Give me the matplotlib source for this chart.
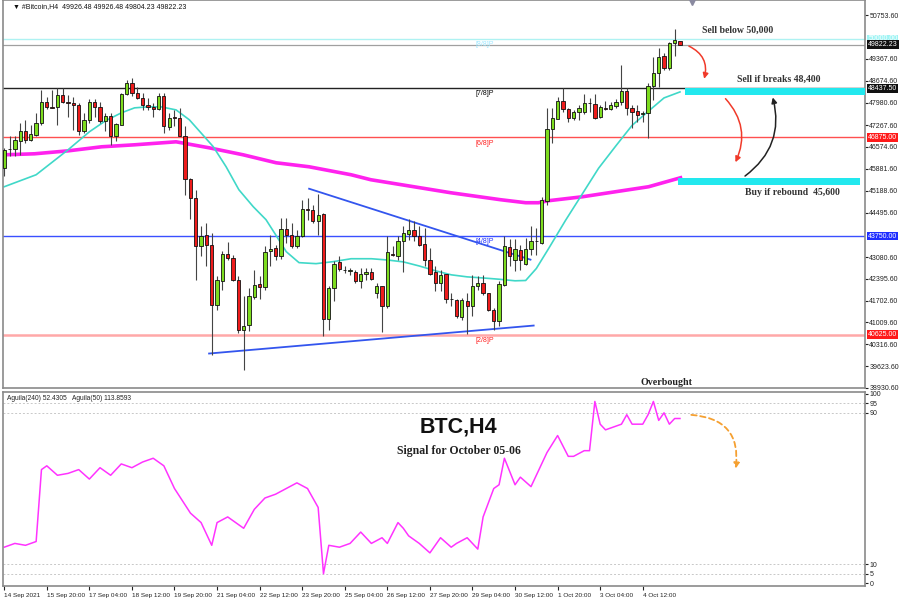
import matplotlib
matplotlib.use("Agg")
import matplotlib.pyplot as plt
from matplotlib.patches import FancyArrowPatch

# candles (H4), 14 Sep 12:00 -> 5 Oct 16:00
opens = [45904, 46506, 46506, 46770, 47086, 46801, 46960, 47350, 47994, 47857,
         47836, 48237, 47994, 47963, 47899, 47065, 47414, 48005, 47857, 47382,
         47561, 46907, 47276, 48258, 48596, 48300, 48121, 47910, 47857, 47773,
         48195, 47192, 47509, 47500, 46928, 45556, 44954, 43424, 43793, 43476,
         41576, 42336, 43181, 43054, 42368, 40784, 40943, 41819, 42231, 42125,
         43265, 43371, 43107, 43972, 43793, 43424, 43740, 44606, 44585, 44215,
         44447, 41122, 42104, 42917, 42664, 42632, 42600, 42315, 42558, 42600,
         41946, 42178, 41545, 43160, 43128, 43582, 43825, 43951, 43761, 43498,
         43001, 42600, 42262, 42547, 41756, 41735, 41186, 41682, 41524, 42178,
         42262, 41946, 41418, 41048, 42210, 43392, 43001, 43318, 42863, 43349,
         43581, 43528, 44848, 47149, 47466, 48036, 47772, 47508, 47677, 47677,
         47962, 47930, 47540, 47825, 47783, 47888, 47994, 48353, 47804, 47719,
         47619, 47645, 48522, 48912, 49461, 49071, 49862, 49926.48]
highs = [46537, 46907, 46928, 47329, 47435, 47276, 47646, 48385, 48174, 48385,
         48438, 48438, 48227, 48174, 47984, 47646, 48089, 48089, 48015, 47667,
         47646, 47329, 48279, 48702, 48754, 48491, 48300, 48121, 47963, 48279,
         48279, 47646, 47751, 47815, 47224, 45588, 45197, 44057, 44162, 43846,
         42473, 43265, 43550, 43160, 42473, 41861, 42104, 42684, 42473, 43424,
         43793, 43476, 44321, 44321, 44162, 43951, 44901, 44954, 44743, 45092,
         44479, 42157, 42948, 43128, 42790, 42737, 42685, 42737, 42737, 42737,
         42262, 42178, 43740, 43424, 43740, 44057, 44289, 44215, 44057, 44004,
         43371, 42811, 42685, 42547, 41946, 41756, 41787, 41946, 42526, 42474,
         42526, 41946, 41471, 42315, 43740, 43656, 43656, 43476, 43687, 44056,
         44003, 44974, 47825, 47825, 48173, 48437, 47804, 47751, 47909, 48247,
         48142, 48247, 47909, 48036, 47994, 48099, 49176, 48437, 47909, 47909,
         47719, 48596, 49440, 49704, 49546, 49915, 50316, 49926.48]
lows = [45640, 46274, 46274, 46326, 46696, 46749, 46928, 47276, 47773, 47804,
        47276, 47963, 47540, 47118, 46960, 47012, 47350, 47540, 47329, 47065,
        46643, 46749, 47266, 48227, 48195, 48089, 47751, 47751, 47540, 47751,
        47012, 47118, 47224, 46907, 45060, 44289, 42368, 43107, 42790, 39992,
        41418, 42051, 43001, 42336, 40678, 39496, 40731, 41755, 41755, 42051,
        42790, 43001, 43022, 43529, 43371, 43371, 43719, 44268, 44162, 43793,
        40594, 40784, 41682, 42632, 42579, 42526, 42262, 42104, 42368, 42347,
        41787, 40700, 41471, 43128, 43001, 42600, 43635, 43582, 43424, 42811,
        42526, 41998, 41998, 41629, 41524, 41154, 41101, 40658, 41207, 42051,
        41893, 41365, 40784, 40890, 42157, 42811, 42632, 42664, 42842, 43159,
        43159, 43496, 44742, 46695, 47466, 47698, 47360, 47434, 47434, 47614,
        47698, 47466, 47508, 47751, 47740, 47804, 47909, 47593, 47170, 47381,
        47381, 46853, 48068, 48490, 49018, 49018, 49472, 49804.23]
closes = [46485, 46500, 46798, 47086, 46801, 46991, 47350, 47994, 47857, 47825,
          48237, 47994, 47984, 47899, 47065, 47435, 48005, 47857, 47382, 47561,
          46907, 47298, 48258, 48596, 48279, 48121, 47910, 47857, 47773, 48195,
          47224, 47488, 47488, 46928, 45556, 44954, 43424, 43761, 43476, 41576,
          42368, 43181, 43054, 42368, 40784, 40890, 41840, 42210, 42125, 43244,
          43350, 43107, 43972, 43793, 43424, 43740, 44606, 44585, 44215, 44426,
          41122, 42104, 42874, 42705, 42664, 42664, 42315, 42547, 42600, 42389,
          42178, 41545, 43234, 43150, 43582, 43846, 43951, 43761, 43476, 43001,
          42558, 42262, 42526, 41756, 41750, 41207, 41713, 41524, 42178, 42262,
          41946, 41397, 41048, 42241, 43424, 43107, 43339, 43001, 43349, 43581,
          43590, 44901, 47149, 47487, 48036, 47783, 47508, 47677, 47825, 47962,
          47955, 47508, 47857, 47772, 47909, 47994, 48353, 47804, 47698, 47593,
          47645, 48522, 48912, 49440, 49071, 49862, 49968, 49822.23]

# moving averages (bar index, price)
ma_fast_x = [0, 6, 12, 16, 19, 22, 24.5, 27, 29.5, 32.3, 34.8, 39.3, 41.7, 44.1, 46.8, 49.2,
             51, 53, 55.4, 58.6, 61.8, 65.2, 69, 72, 75, 78, 81, 84, 87, 90, 93, 96, 98,
             100, 102.3, 105.5, 108.7, 111.7, 115, 118, 121, 124, 127]
ma_fast = [45313, 45693, 46485, 47055, 47400, 47656, 47815, 47846, 47846, 47750, 47435,
           46580, 45947, 45218, 44680, 44268, 43793, 43254, 42906, 42874, 42937, 43030,
           43030, 42990, 42930, 42800, 42650, 42520, 42455, 42420, 42380, 42330, 42340,
           42720, 43350, 44250, 45100, 45900, 46620, 47260, 47700, 48130, 48320]
ma_slow_x = [0, 5.7, 12.1, 18.3, 24.5, 32.3, 38.5, 44.9, 51.1, 57.3, 65.2, 68.9, 83.9,
             93.3, 98, 100.4, 102.3, 108.7, 114.9, 121.1, 127.1]
ma_slow = [46326, 46358, 46453, 46580, 46643, 46738, 46548, 46326, 46073, 45946, 45693,
           45535, 45123, 44901, 44806, 44806, 44870, 44996, 45155, 45313, 45598]

# murrey levels
mm_levels = [50000, 48437.5, 46875, 43750, 40625]
mm_names = ["[8/8]P", "[7/8]P", "[6/8]P", "[4/8]P", "[2/8]P"]
mm_colors = ["#9fe8ff", "#000000", "#ff2020", "#2030ff", "#ff2020"]
mm_lines = ["#aef2f2", "#222222", "#ff5050", "#3a50ff", "#ffa8a8"]
bid = 49822.23

# triangle lines (bar index, price)
tri_up_x, tri_up_y = [57.3, 98.9], [45250, 43001]
tri_lo_x, tri_lo_y = [38.5, 99.5], [40024, 40911]

price_ticks = [50753.60, 49367.60, 48674.60, 47980.60, 47267.60, 46574.60, 45881.60,
               45188.60, 44495.60, 43080.60, 42395.60, 41702.60, 41009.60, 40316.60,
               39623.60, 38930.60]

# oscillator (bar index, value)
osc_x = [0, 2, 4, 6, 7, 8, 10, 12, 14, 16, 18, 20, 22, 24, 26, 28, 30, 32, 35, 37, 39,
         40, 42, 45, 47, 49, 51, 53, 55, 57, 58, 59, 60, 61, 63, 65, 67, 69, 71, 72, 74,
         75, 76, 78, 80, 82, 84, 85, 87, 88, 89, 90, 92, 93, 94, 96, 97, 99, 102, 104,
         106, 107, 109, 110, 111, 112, 113, 115, 116, 117, 118, 120, 121, 122, 123, 124,
         125, 126, 127]
osc = [19, 21, 20, 22, 60, 62, 57, 58, 60, 55, 61, 57, 63, 61, 64, 66, 62, 50, 37, 32,
       20, 32, 35, 29, 39, 45, 47, 50, 53, 50, 45, 40, 5, 20, 19, 21, 27, 21, 24, 21, 32,
       29, 25, 21, 16, 24, 19, 21, 24, 21, 18, 35, 50, 52, 66, 52, 56, 51, 69, 78, 67,
       67, 70, 70, 96, 84, 81, 83, 84, 89, 84, 84, 89, 96, 86, 90, 84, 87, 87]

date_ticks = list(range(0, 121, 8))
date_labels = ["14 Sep 2021", "15 Sep 20:00", "17 Sep 04:00", "18 Sep 12:00",
               "19 Sep 20:00", "21 Sep 04:00", "22 Sep 12:00", "23 Sep 20:00",
               "25 Sep 04:00", "26 Sep 12:00", "27 Sep 20:00", "29 Sep 04:00",
               "30 Sep 12:00", "1 Oct 20:00", "3 Oct 04:00", "4 Oct 12:00"]

plt.rcParams["font.family"] = ["Liberation Sans", "DejaVu Sans"]

fig = plt.figure(figsize=(9, 6), dpi=100)
ax = fig.add_axes([0.0035, 1 - 388 / 600, 0.9578, 388 / 600])
ax2 = fig.add_axes([0.0035, 1 - 586 / 600, 0.9578, 194 / 600])

x_lo, x_hi = -0.2, 161.8
for a in (ax, ax2):
    a.set_xlim(x_lo, x_hi)
    for s in a.spines.values():
        s.set_color("#8a8a8a")
        s.set_linewidth(1.2)
ax.set_ylim(38947, 51235)

# horizontal levels
for lv, c in zip(mm_levels, mm_lines):
    lw = 1.8 if c == "#ffa8a8" else 1.0
    ax.axhline(lv, color=c, lw=lw, zorder=1)
ax.axhline(bid, color="#a0a0a0", lw=0.9, zorder=1)
for lv, nm, c in zip(mm_levels, mm_names, mm_colors):
    ax.text(88.5, lv - 70, nm, fontsize=5, color=c, va="top", ha="left", zorder=2)

# moving averages
ax.plot(ma_slow_x, ma_slow, color="#ff22ee", lw=2.6, zorder=2)
ax.plot(ma_fast_x, ma_fast, color="#40d8c8", lw=1.2, zorder=2)

# triangle
ax.plot(tri_up_x, tri_up_y, color="#3355ee", lw=1.3, zorder=2)
ax.plot(tri_lo_x, tri_lo_y, color="#3355ee", lw=1.3, zorder=2)

# candles
idx = list(range(len(opens)))
ax.vlines(idx, lows, highs, color="#444444", lw=0.8, zorder=3)
bottoms = [min(o, c) for o, c in zip(opens, closes)]
heights = [max(abs(c - o), 18) for o, c in zip(opens, closes)]
cols = ["#7ddc1f" if c >= o else "#ee1c1c" for o, c in zip(opens, closes)]
ax.bar(idx, heights, bottom=bottoms, width=0.62, color=cols, edgecolor="#111111",
       linewidth=0.6, zorder=4)

# signal boxes
ax.fill_between([128.0, 161.8], 48226, 48448, color="#22e8ee", zorder=3, lw=0)
ax.fill_between([126.7, 160.8], 45376, 45598, color="#22e8ee", zorder=3, lw=0)

serif = ["Liberation Serif", "DejaVu Serif"]
ax.text(131.2, 50270, "Sell below 50,000", fontsize=7, fontweight="bold", family=serif,
        color="#333333", va="center")
ax.text(137.8, 48720, "Sell if breaks 48,400", fontsize=7, fontweight="bold", family=serif,
        color="#333333", va="center")
ax.text(139.3, 45140, "Buy if rebound  45,600", fontsize=7, fontweight="bold", family=serif,
        color="#333333", va="center")
ax.text(119.5, 39100, "Overbought", fontsize=7.2, fontweight="bold", family=serif,
        color="#222222", va="center")

ax.add_patch(FancyArrowPatch((128.2, 49810), (131.4, 48650), connectionstyle="arc3,rad=-0.45",
                             arrowstyle="-|>", mutation_scale=8, color="#f03a2a", lw=1.1, zorder=5))
ax.add_patch(FancyArrowPatch((135.2, 48170), (137.2, 46010), connectionstyle="arc3,rad=-0.35",
                             arrowstyle="-|>", mutation_scale=8, color="#f03a2a", lw=1.1, zorder=5))
ax.add_patch(FancyArrowPatch((138.8, 45600), (144.3, 48230), connectionstyle="arc3,rad=0.35",
                             arrowstyle="-|>", mutation_scale=8, color="#222222", lw=1.1, zorder=5))

ax.text(0.012, 0.993, "\u25bc #Bitcoin,H4  49926.48 49926.48 49804.23 49822.23",
        transform=ax.transAxes, fontsize=5, va="top", ha="left", color="#111111")
ax.plot([129.2], [51160], marker="v", color="#8a8aa0", ms=4, clip_on=False, zorder=6)

# price axis
ax.yaxis.tick_right()
ax.set_yticks(price_ticks)
ax.set_yticklabels(["%.2f" % t for t in price_ticks])
ax.tick_params(axis="y", labelsize=5, length=2, pad=1, colors="#222222")
ax.set_xticks([])

tags = [(50000, "50000.00", "#9ff4f4", "#ffffff"), (bid, "49822.23", "#111111", "#ffffff"),
        (48437.5, "48437.50", "#111111", "#ffffff"), (46875, "46875.00", "#ff1a1a", "#ffffff"),
        (43750, "43750.00", "#1f2fff", "#ffffff"), (40625, "40625.00", "#ff1a1a", "#ffffff")]
for lv, s, bg, fc in tags:
    ax.annotate(s, xy=(1, lv), xycoords=("axes fraction", "data"), xytext=(2.2, 0),
                textcoords="offset points", fontsize=5, color=fc, va="center", ha="left",
                bbox=dict(boxstyle="square,pad=0.12", fc=bg, ec="none"), zorder=6,
                annotation_clip=False)

# oscillator panel
ax2.set_ylim(-1.5, 101)
for lv in (95, 90, 10, 5):
    ax2.axhline(lv, color="#c8c8c8", lw=0.7, ls=(0, (2, 2)))
ax2.plot(osc_x, osc, color="#ff33ff", lw=1.1)
ax2.add_patch(FancyArrowPatch((128.6, 89), (137.4, 59), connectionstyle="arc3,rad=-0.55",
                              arrowstyle="-|>", mutation_scale=8, color="#f5a031", lw=1.3,
                              linestyle=(0, (3, 2)), zorder=5))
ax2.text(0.005, 0.985, "Aguila(240) 52.4305   Aguila(50) 113.8593", transform=ax2.transAxes,
         fontsize=4.8, va="top", ha="left", color="#222222")
ax2.text(85.4, 82.5, "BTC,H4", fontsize=15.5, fontweight="bold",
         ha="center", va="center", color="#111111")
ax2.text(85.4, 69.8, "Signal for October 05-06", fontsize=8.5, fontweight="bold", family=serif,
         ha="center", va="center", color="#222222")
ax2.yaxis.tick_right()
ax2.set_yticks([0, 5, 10, 90, 95, 100])
ax2.set_yticklabels(["0", "5", "10", "90", "95", "100"])
ax2.tick_params(axis="y", labelsize=5, length=2, pad=1, colors="#222222")
ax2.set_xticks(date_ticks)
ax2.set_xticklabels(date_labels, ha="left")
ax2.tick_params(axis="x", labelsize=4.6, length=3, pad=2, colors="#222222")

fig.savefig("out.png", dpi=100, facecolor="white")
